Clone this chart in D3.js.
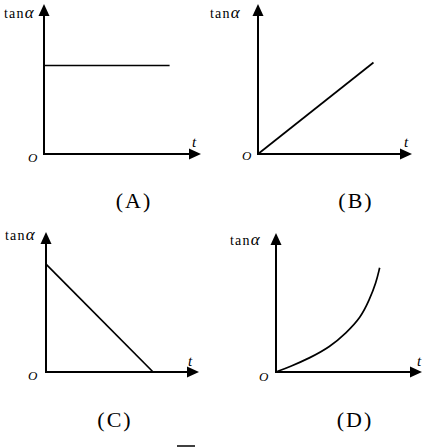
<!DOCTYPE html>
<html>
<head>
<meta charset="utf-8">
<script src="https://cdn.jsdelivr.net/npm/d3@7"></script>
<style>
  html, body { margin: 0; padding: 0; background: #fff; }
  svg { display: block; }
</style>
</head>
<body>
<div id="chart"></div>
<script>
// ---- data ----
const panelNames = ["(A)", "(B)", "(C)", "(D)"];
const yAxisLabel = "tan";
const yAxisSymbol = "α";
const xAxisLabel = "t";
const originLabel = "O";

const tA = [0, 8.0];
const tanA = [5.9, 5.9];

const tB = [0, 7.5];
const tanB = [0, 6.1];

const tC = [0, 7.0];
const tanC = [7.7, 0];

const tD = [0, 1.0, 2.3, 3.7, 4.8, 5.8, 6.4, 6.85, 7.1];
const tanD = [0, 0.4, 1.0, 1.8, 2.8, 3.9, 5.2, 6.4, 7.5];

const domainMax = 10;

// ---- layout ----
const W = 438, H = 447;
const panels = [
  { name: panelNames[0], t: tA, v: tanA, ox: 44,  oy: 154, xTip: 201, yTip: 4,   curve: d3.curveLinear,
    lab: { x: 4, y: 18 }, O: { x: 28, y: 162 }, tl: { x: 192, y: 147 }, cap: { x: 134, y: 208 } },
  { name: panelNames[1], t: tB, v: tanB, ox: 258, oy: 154, xTip: 412, yTip: 4,   curve: d3.curveLinear,
    lab: { x: 210, y: 18 }, O: { x: 242, y: 160 }, tl: { x: 404, y: 147 }, cap: { x: 356, y: 208 } },
  { name: panelNames[2], t: tC, v: tanC, ox: 46,  oy: 372, xTip: 199, yTip: 232, curve: d3.curveLinear,
    lab: { x: 5, y: 240 }, O: { x: 28, y: 380 }, tl: { x: 188, y: 366 }, cap: { x: 115, y: 427 } },
  { name: panelNames[3], t: tD, v: tanD, ox: 276, oy: 372, xTip: 422, yTip: 233, curve: d3.curveBasis,
    lab: { x: 230, y: 245 }, O: { x: 259, y: 381 }, tl: { x: 417, y: 366 }, cap: { x: 355, y: 427 } }
];

const svg = d3.select("#chart").append("svg")
  .attr("width", W).attr("height", H)
  .attr("viewBox", `0 0 ${W} ${H}`);

const serif = "'Liberation Serif', 'DejaVu Serif', serif";

panels.forEach(p => {
  const x = d3.scaleLinear().domain([0, domainMax]).range([p.ox, p.xTip]);
  const y = d3.scaleLinear().domain([0, domainMax]).range([p.oy, p.yTip]);
  const g = svg.append("g");

  const ah = 12, aw = 5.5; // arrow length, half width
  g.append("line")
    .attr("x1", x(0)).attr("y1", y(0))
    .attr("x2", x(domainMax) - ah + 1).attr("y2", y(0))
    .attr("stroke", "#000").attr("stroke-width", 2);
  g.append("line")
    .attr("x1", x(0)).attr("y1", y(0) + 1)
    .attr("x2", x(0)).attr("y2", y(domainMax) + ah - 1)
    .attr("stroke", "#000").attr("stroke-width", 2);
  const xt = x(domainMax), yt = y(domainMax);
  g.append("path")
    .attr("d", `M${xt},${y(0)} L${xt - ah},${y(0) - aw} L${xt - ah},${y(0) + aw} Z`)
    .attr("fill", "#000");
  g.append("path")
    .attr("d", `M${x(0)},${yt} L${x(0) - aw},${yt + ah} L${x(0) + aw},${yt + ah} Z`)
    .attr("fill", "#000");

  const pts = p.t.map((d, i) => [d, p.v[i]]);
  g.append("path")
    .datum(pts)
    .attr("d", d3.line().x(d => x(d[0])).y(d => y(d[1])).curve(p.curve))
    .attr("fill", "none")
    .attr("stroke", "#000")
    .attr("stroke-width", 1.7)
    .attr("stroke-linejoin", "round");

  const lab = g.append("text")
    .attr("x", p.lab.x).attr("y", p.lab.y)
    .attr("font-family", serif)
    .attr("font-size", 14).attr("fill", "#000");
  lab.append("tspan").attr("letter-spacing", 1.2).text(yAxisLabel);
  lab.append("tspan").attr("font-style", "italic")
    .attr("font-size", 17).text(yAxisSymbol);

  g.append("text").attr("x", p.O.x).attr("y", p.O.y)
    .attr("font-family", serif).attr("font-style", "italic")
    .attr("font-size", 13).attr("fill", "#000").text(originLabel);
  g.append("text").attr("x", p.tl.x).attr("y", p.tl.y)
    .attr("font-family", serif).attr("font-style", "italic")
    .attr("font-size", 15).attr("fill", "#000").text(xAxisLabel);
  g.append("text").attr("x", p.cap.x).attr("y", p.cap.y)
    .attr("text-anchor", "middle")
    .attr("font-family", serif)
    .attr("letter-spacing", 2)
    .attr("font-size", 22).attr("fill", "#000").text(p.name);
});

svg.append("line")
  .attr("x1", 177).attr("x2", 195).attr("y1", 446).attr("y2", 446)
  .attr("stroke", "#000").attr("stroke-width", 1.5);
</script>
</body>
</html>
